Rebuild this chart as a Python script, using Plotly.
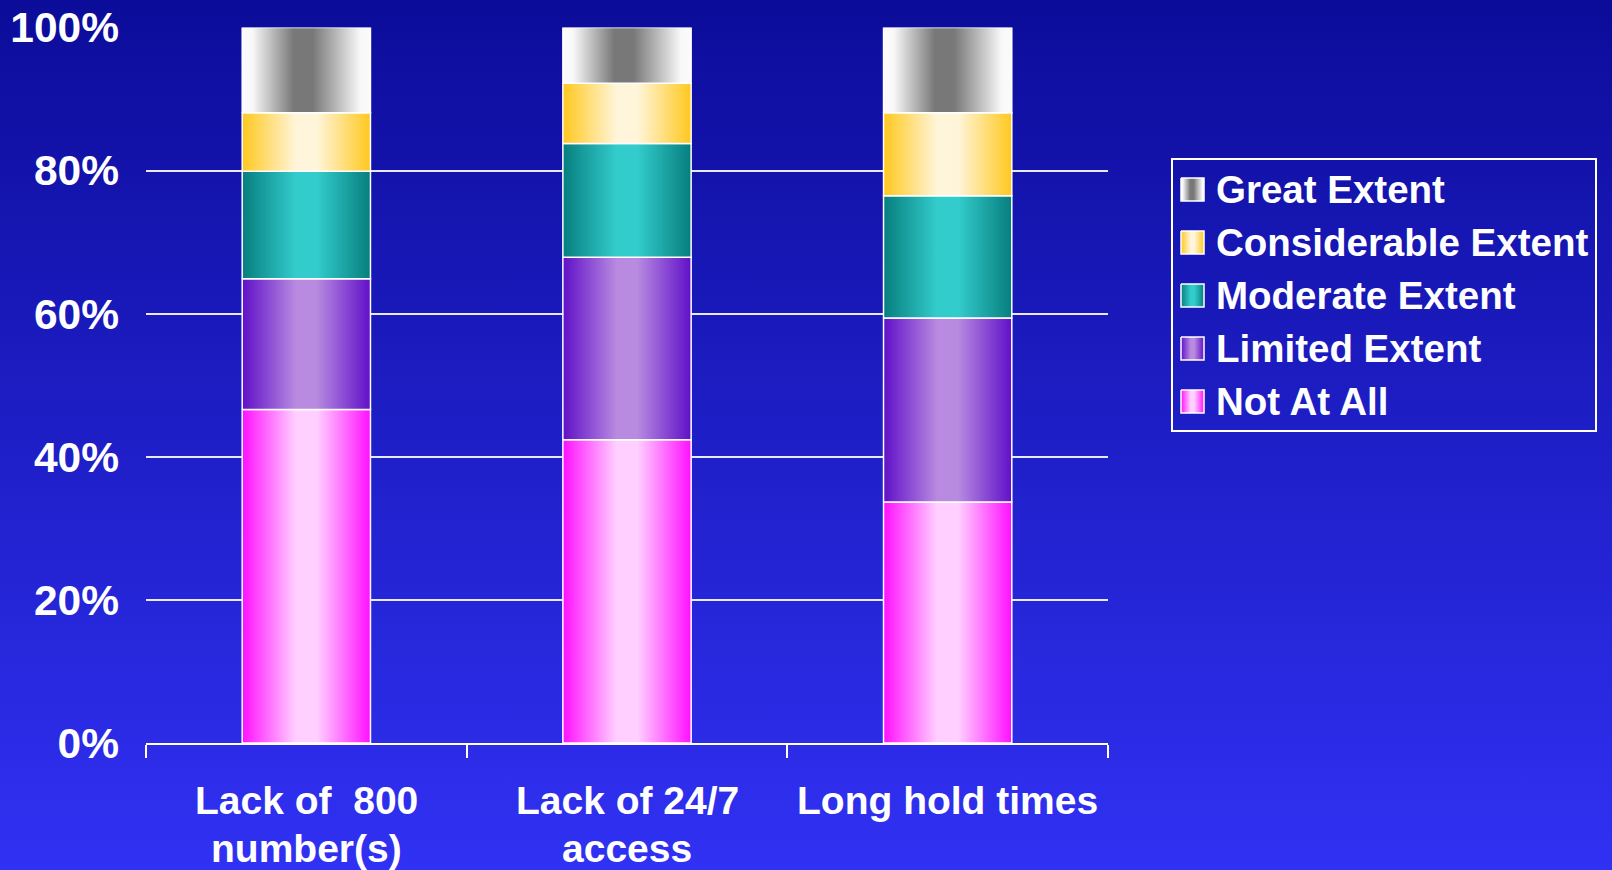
import base64
import plotly.graph_objects as go

# ---- data ----------------------------------------------------------------
categories = ["Lack of  800 number(s)", "Lack of 24/7 access", "Long hold times"]
category_lines = [["Lack of\u00a0 800", "number(s)"], ["Lack of 24/7", "access"], ["Long hold times"]]

series_names = ["Not At All", "Limited Extent", "Moderate Extent",
                "Considerable Extent", "Great Extent"]
not_at_all = [46.6, 42.4, 33.7]
limited_extent = [18.3, 25.5, 25.7]
moderate_extent = [15.0, 15.9, 17.1]
considerable_extent = [8.2, 8.4, 11.6]
great_extent = [11.9, 7.8, 11.9]

y_tick_values = [0, 20, 40, 60, 80, 100]
y_tick_labels = ["0%", "20%", "40%", "60%", "80%", "100%"]

series_values = [not_at_all, limited_extent, moderate_extent,
                 considerable_extent, great_extent]

# ---- styles --------------------------------------------------------------
W, H = 1612, 870
BAR_WIDTH = 0.4
FONT = "Liberation Sans, Arial, sans-serif"

gradients = {
    "Not At All": [[0, "#ff10ff"], [0.42, "#ffd0ff"], [0.58, "#ffd0ff"], [1, "#ff10ff"]],
    "Limited Extent": [[0, "#6010c8"], [0.42, "#b88ae0"], [0.58, "#b88ae0"], [1, "#6010c8"]],
    "Moderate Extent": [[0, "#077e7e"], [0.42, "#33cccc"], [0.58, "#33cccc"], [1, "#077e7e"]],
    "Considerable Extent": [[0, "#ffc81e"], [0.42, "#fff5da"], [0.58, "#fff5da"], [1, "#ffc81e"]],
    "Great Extent": [[0, "#fbfbfb"], [0.08, "#f8f8f8"], [0.4, "#787878"],
                     [0.55, "#787878"], [0.92, "#f8f8f8"], [1, "#fbfbfb"]],
}

# legend geometry (pixel units of the overlay axis)
LEG_BOX = (1172, 159, 1596, 431)
LEG_ICON_X = (1181, 1204)
LEG_ICON_HALF = 11.5
LEG_TEXT_X = 1214
LEG_FIRST_ROW = 189.5
LEG_ROW_GAP = 53

fig = go.Figure()

# stacked segments, each a filled rectangle with a horizontal gradient
for ci in range(len(categories)):
    base = 0.0
    for si, name in enumerate(series_names):
        v = series_values[si][ci]
        x0, x1 = ci - BAR_WIDTH / 2, ci + BAR_WIDTH / 2
        fig.add_trace(go.Scatter(
            x=[x0, x1, x1, x0, x0],
            y=[base, base, base + v, base + v, base],
            mode="lines",
            fill="toself",
            fillgradient=dict(type="horizontal", colorscale=gradients[name]),
            line=dict(color="white", width=1.5),
            name=name,
            hovertemplate=f"{categories[ci]}<br>{name}: {v}%<extra></extra>",
        ))
        base += v

# legend: gradient swatches on a pixel-unit overlay axis, plus text labels
for si, name in enumerate(series_names):
    row_y = LEG_FIRST_ROW + (len(series_names) - 1 - si) * LEG_ROW_GAP
    lx0, lx1 = LEG_ICON_X
    fig.add_trace(go.Scatter(
        x=[lx0, lx1, lx1, lx0, lx0],
        y=[row_y - LEG_ICON_HALF, row_y - LEG_ICON_HALF, row_y + LEG_ICON_HALF,
           row_y + LEG_ICON_HALF, row_y - LEG_ICON_HALF],
        xaxis="x2", yaxis="y2",
        mode="lines", fill="toself",
        fillgradient=dict(type="horizontal", colorscale=gradients[name]),
        line=dict(color="white", width=1.5),
        hoverinfo="skip",
    ))
    fig.add_annotation(
        x=LEG_TEXT_X, y=row_y, xref="x2", yref="y2",
        xanchor="left", yanchor="middle", showarrow=False, text=name,
        font=dict(family=FONT, size=38.5, color="white", weight="bold"),
    )

fig.add_shape(
    type="rect", xref="paper", yref="paper",
    x0=LEG_BOX[0] / W, x1=LEG_BOX[2] / W,
    y0=1 - LEG_BOX[1] / H, y1=1 - LEG_BOX[3] / H,
    line=dict(color="white", width=2), fillcolor="rgba(0,0,0,0)",
)

# category labels under the axis
for ci, lines in enumerate(category_lines):
    for li, text in enumerate(lines):
        fig.add_annotation(
            x=ci, xref="x",
            y=(H - 800 - 48 * li) / H, yref="paper",
            yanchor="middle", xanchor="center",
            text=text, showarrow=False,
            font=dict(family=FONT, size=39, color="white", weight="bold"),
        )

# vertical blue background gradient
svg = (
    f'<svg xmlns="http://www.w3.org/2000/svg" width="{W}" height="{H}" '
    f'viewBox="0 0 {W} {H}" preserveAspectRatio="none">'
    '<defs><linearGradient id="bg" x1="0" y1="0" x2="0" y2="1">'
    '<stop offset="0" stop-color="#0c0c9a"/>'
    '<stop offset="1" stop-color="#3131f4"/>'
    '</linearGradient></defs>'
    f'<rect width="{W}" height="{H}" fill="url(#bg)"/></svg>'
)
bg_uri = "data:image/svg+xml;base64," + base64.b64encode(svg.encode()).decode()

fig.update_layout(
    width=W, height=H,
    margin=dict(l=0, r=0, t=0, b=0, autoexpand=False),
    paper_bgcolor="#1d1dc6",
    plot_bgcolor="rgba(0,0,0,0)",
    images=[dict(source=bg_uri, xref="paper", yref="paper", x=0, y=1,
                 sizex=1, sizey=1, sizing="stretch", layer="below")],
    font=dict(family=FONT, color="white"),
    showlegend=False,
    xaxis=dict(
        domain=[146 / W, 1108 / W],
        range=[-0.5, len(categories) - 0.5],
        showgrid=False, zeroline=False, automargin=False,
        showline=True, linecolor="white", linewidth=2,
        tickmode="array", tickvals=[-0.5 + i for i in range(len(categories) + 1)],
        ticktext=[""] * (len(categories) + 1),
        ticks="outside", ticklen=13, tickwidth=2, tickcolor="white",
        fixedrange=True,
    ),
    yaxis=dict(
        domain=[(H - 743) / H, (H - 27.5) / H],
        range=[0, 100], automargin=False,
        tickmode="array", tickvals=y_tick_values, ticktext=y_tick_labels,
        tickfont=dict(family=FONT, size=42.5, color="white", weight="bold"),
        ticks="", ticklabelstandoff=26,
        showgrid=True, gridcolor="#e8e8ff", gridwidth=2,
        zeroline=False, showline=False,
        fixedrange=True,
    ),
    xaxis2=dict(domain=[0, 1], range=[0, W], visible=False, fixedrange=True,
                anchor="y2"),
    yaxis2=dict(domain=[0, 1], range=[H, 0], visible=False, fixedrange=True,
                anchor="x2"),
)

fig.write_html("out.html")
